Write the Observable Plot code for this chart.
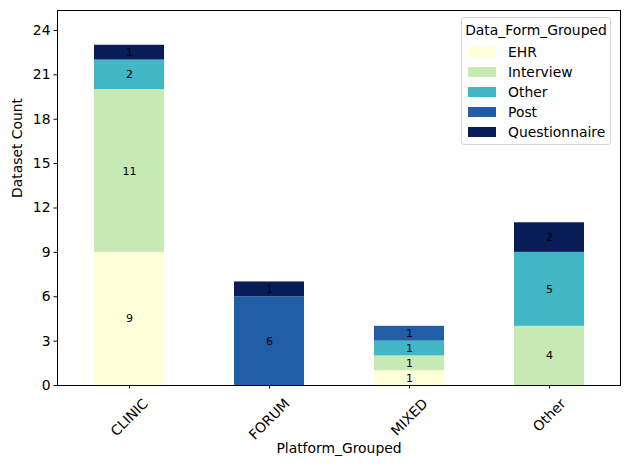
<!DOCTYPE html>
<html>
<head>
<meta charset="utf-8">
<script src="https://cdn.jsdelivr.net/npm/d3@7"></script>
<script src="https://cdn.jsdelivr.net/npm/@observablehq/plot@0.6"></script>
<style>
  html, body { margin: 0; padding: 0; background: #fff; }
  #wrap { position: relative; width: 630px; height: 470px; font-family: "DejaVu Sans", sans-serif; }
  #legend { position: absolute; left: 461px; top: 17px; width: 150px; height: 128px;
    border: 1px solid #d6d6d6; border-radius: 3px; background: rgba(255,255,255,0.8);
    font-size: 13.9px; color: #000; box-sizing: border-box; }
  #legend .title { position: absolute; left: 0; width: 100%; text-align: center; top: 4px; }
  #legend .item { position: absolute; left: 6px; height: 16px; line-height: 16px; }
  #legend .sw { position: absolute; left: 0; top: 3px; width: 28px; height: 10px; }
  #legend .lab { position: absolute; left: 40px; top: 0; white-space: nowrap; }
</style>
</head>
<body>
<div id="wrap"><div id="legend"></div></div>
<script>
const platforms = ["CLINIC", "FORUM", "MIXED", "Other"];
const forms = ["EHR", "Interview", "Other", "Post", "Questionnaire"];
const formColors = ["#ffffd9", "#c7e9b4", "#41b6c4", "#225ea8", "#081d58"];
// counts per form, in platform order
const EHR = [9, 0, 1, 0];
const Interview = [11, 0, 1, 4];
const OtherForm = [2, 0, 1, 5];
const Post = [0, 6, 1, 0];
const Questionnaire = [1, 1, 0, 2];
const yTicks = [0, 3, 6, 9, 12, 15, 18, 21, 24];

const series = [EHR, Interview, OtherForm, Post, Questionnaire];
const data = [];
forms.forEach((f, i) => platforms.forEach((p, j) => {
  if (series[i][j] > 0) data.push({platform: p, form: f, count: series[i][j]});
}));

const FS = 13.9;
const ctx = document.createElement("canvas").getContext("2d");
ctx.font = `${FS}px "DejaVu Sans"`;
const labelMarks = platforms.map(p => {
  const w = ctx.measureText(p).width;
  const half = (w + FS) * 0.7071 / 2;
  return Plot.text([p], {x: d => d, frameAnchor: "bottom", dy: 11 + half, rotate: -45,
    textAnchor: "middle", lineAnchor: "middle", fontSize: FS, fill: "black"});
});

const chart = Plot.plot({
  width: 630, height: 470,
  marginLeft: 57, marginRight: 10, marginTop: 10, marginBottom: 85,
  style: {fontFamily: "DejaVu Sans", fontSize: FS + "px", color: "black", background: "white"},
  x: {domain: platforms, paddingInner: 0.5, paddingOuter: 0.25, label: null},
  y: {domain: [0, 25.35], label: null},
  color: {domain: forms, range: formColors},
  marks: [
    Plot.barY(data, Plot.stackY({x: "platform", y: "count", fill: "form", order: forms})),
    Plot.text(data, Plot.stackY({x: "platform", y: "count", z: "form", order: forms,
      text: d => String(d.count), fontSize: 11, fill: "black"})),
    Plot.frame({stroke: "black", strokeWidth: 1}),
    Plot.axisY({ticks: yTicks, tickSize: 3.5, tickPadding: 3.5, label: null, tickFormat: d => d}),
    Plot.axisX({tickSize: 3.5, tickFormat: () => "", label: null}),
    ...labelMarks,
    Plot.text(["Platform_Grouped"], {frameAnchor: "bottom", dy: 67, fontSize: FS, fill: "black"}),
    Plot.text(["Dataset Count"], {frameAnchor: "left", dx: -40, rotate: -90, fontSize: FS, fill: "black"})
  ]
});
document.getElementById("wrap").prepend(chart);

const lg = document.getElementById("legend");
const t = document.createElement("div");
t.className = "title"; t.textContent = "Data_Form_Grouped";
lg.appendChild(t);
forms.forEach((f, i) => {
  const it = document.createElement("div");
  it.className = "item";
  it.style.top = (26 + i * 20) + "px";
  it.innerHTML = `<span class="sw" style="background:${formColors[i]}"></span><span class="lab">${f}</span>`;
  lg.appendChild(it);
});
</script>
</body>
</html>
